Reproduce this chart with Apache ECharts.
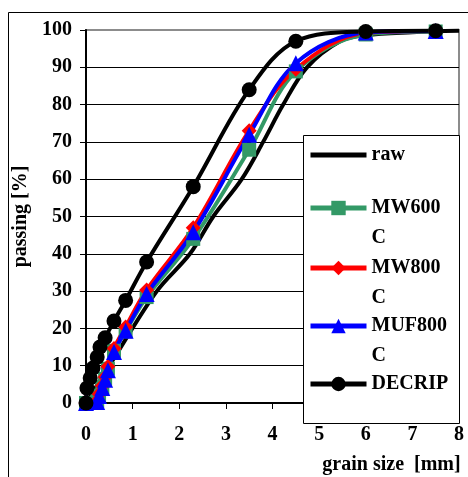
<!DOCTYPE html>
<html>
<head>
<meta charset="utf-8">
<script src="https://cdn.jsdelivr.net/npm/echarts@6/dist/echarts.min.js"></script>
<style>
html,body{margin:0;padding:0;background:#fff;}
#main{width:468px;height:477px;}
</style>
</head>
<body>
<div id="main"></div>
<script>
// grading curves, grain size [mm] vs passing [%]
var rawSize = [0, 0.6, 1.52, 2.23, 2.73, 3.34, 3.8, 4.23, 4.74, 5.45, 6, 7, 8];
var rawPass = [0, 12, 30, 40, 50, 60, 70, 80, 90, 97, 98.6, 99.4, 99.8];

var mwSize = [0, 0.24, 0.28, 0.35, 0.41, 0.47, 0.6, 0.85, 1.3, 2.3, 3.5, 4.5, 6, 7.5];
var mw600 = [0, 0.5, 2, 4.2, 6.5, 9.2, 14, 19.2, 28.4, 44, 67.9, 88.9, 98.8, 99.6];
var mw800 = [0, 0.6, 2.4, 4.6, 7, 9.8, 14.6, 20.4, 30.3, 47, 73, 89.5, 99.2, 99.7];
var muf800 = [0, 0.3, 1.9, 4, 6.2, 8.8, 13.7, 19.4, 29.2, 45.8, 71.9, 91.1, 99.3, 99.7];

var decripSize = [0, 0.02, 0.09, 0.15, 0.24, 0.3, 0.41, 0.6, 0.85, 1.3, 2.3, 3.5, 4.5, 6, 7.5];
var decrip = [0, 4, 6.7, 9.4, 12.3, 15, 17.5, 22, 27.5, 37.8, 58, 84, 97, 99.6, 99.8];

var xTicks = [0, 1, 2, 3, 4, 5, 6, 7, 8];
var yTicks = [0, 10, 20, 30, 40, 50, 60, 70, 80, 90, 100];

var legendNames = ['raw', 'MW600 C', 'MW800 C', 'MUF800 C', 'DECRIP'];
var legendTops = [140, 163, 223, 281, 369];

function pairs(xs, ys){
  var out = [];
  for (var i = 0; i < xs.length; i++) out.push([xs[i], ys[i]]);
  return out;
}

var font = 'Liberation Serif';
var chart = echarts.init(document.getElementById('main'));

// split line colours: top one (100) grey like the plot frame
var splitColors = yTicks.map(function(v){ return v === 100 ? '#8c8c8c' : '#000'; });

function lineSeries(name, data, color, symbol, size){
  return {
    name: name,
    type: 'line',
    data: data,
    smooth: 0.35,
    symbol: symbol,
    symbolSize: size,
    showSymbol: symbol !== 'none',
    lineStyle: {color: color, width: 4},
    itemStyle: {color: color},
    clip: false,
    z: 3
  };
}

// one legend per entry; wrapped names get an empty first line so the
// marker sits level with the first word, as in the original
var legends = legendNames.map(function(n, i){
  var item = {name: n};
  if (n === 'raw') item.itemStyle = {opacity: 0};
  return {
    orient: 'vertical',
    left: 308, top: legendTops[i],
    padding: 0,
    itemWidth: 56, itemHeight: 18,
    z: 20,
    lineStyle: {width: 5},
    textStyle: {fontFamily: font, fontWeight: 'bold', fontSize: 20, color: '#000', lineHeight: 30},
    formatter: function(name){
      return name.indexOf(' ') > 0 ? ' \n' + name.replace(' ', '\n') : name;
    },
    data: [item]
  };
});

chart.setOption({
  animation: false,
  textStyle: {fontFamily: font},
  graphic: [{
    type: 'rect',
    shape: {x: 8.5, y: 12.5, width: 480, height: 480},
    style: {fill: 'none', stroke: '#000', lineWidth: 1},
    z: 0
  }, {
    type: 'rect',
    shape: {x: 303.5, y: 135.5, width: 156, height: 288},
    style: {fill: '#fff', stroke: '#000', lineWidth: 1},
    z: 15
  }],
  grid: {
    left: 86, top: 30, right: 9, bottom: 74,
    containLabel: false, outerBoundsMode: 'none',
    show: true, borderColor: '#8c8c8c', borderWidth: 2
  },
  legend: legends,
  xAxis: {
    type: 'value', min: 0, max: 8, interval: 1,
    name: 'grain size  [mm]', nameLocation: 'middle', nameGap: 52,
    nameTextStyle: {fontFamily: font, fontWeight: 'bold', fontSize: 20, color: '#000', padding: [0, 0, 0, 238]},
    axisLine: {show: true, onZero: false, lineStyle: {color: '#000', width: 2}},
    axisTick: {show: true, length: 6, lineStyle: {color: '#000', width: 1}},
    axisLabel: {margin: 22, fontFamily: font, fontWeight: 'bold', fontSize: 20, color: '#000',
      formatter: function(v){ return xTicks.indexOf(v) >= 0 ? String(v) : ''; }},
    splitLine: {show: false}
  },
  yAxis: {
    type: 'value', min: 0, max: 100, interval: 10,
    name: 'passing [%]', nameLocation: 'middle', nameGap: 45, nameRotate: 90,
    nameTextStyle: {fontFamily: font, fontWeight: 'bold', fontSize: 20, color: '#000'},
    axisLine: {show: true, onZero: false, lineStyle: {color: '#000', width: 2}},
    axisTick: {show: true, length: 6, lineStyle: {color: '#000', width: 1}},
    axisLabel: {margin: 14, fontFamily: font, fontWeight: 'bold', fontSize: 20, color: '#000'},
    splitLine: {show: true, lineStyle: {color: splitColors, width: 1}}
  },
  series: [
    lineSeries('raw', pairs(rawSize, rawPass), '#000', 'none', 0),
    lineSeries('MW600 C', pairs(mwSize, mw600), '#339966', 'rect', 14),
    lineSeries('MW800 C', pairs(mwSize, mw800), '#ff0000', 'diamond', 15),
    lineSeries('MUF800 C', pairs(mwSize, muf800), '#0000ff', 'triangle', 16),
    lineSeries('DECRIP', pairs(decripSize, decrip), '#000', 'circle', 15)
  ]
});
</script>
</body>
</html>
